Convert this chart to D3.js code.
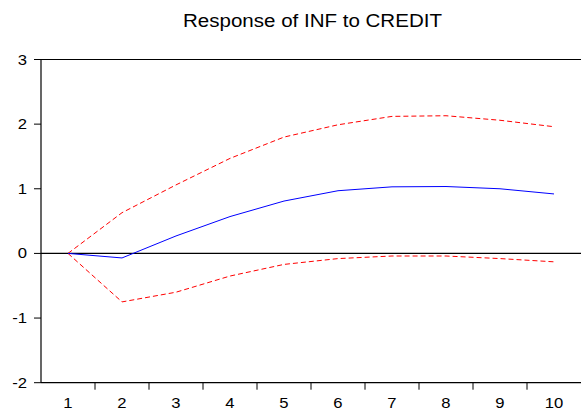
<!DOCTYPE html>
<html>
<head>
<meta charset="utf-8">
<script src="https://cdn.jsdelivr.net/npm/d3@7/dist/d3.min.js"></script>
<style>
  html, body { margin: 0; padding: 0; background: #fff; }
  svg { display: block; font-family: "Liberation Sans", Arial, sans-serif; }
</style>
</head>
<body>
<svg id="chart" width="581" height="409"></svg>
<script>
// Impulse response of INF to a CREDIT shock, with ±2 S.E. bands
const periods = [1, 2, 3, 4, 5, 6, 7, 8, 9, 10];
const response = [0.00, -0.07, 0.27, 0.57, 0.81, 0.97, 1.03, 1.035, 1.00, 0.92];
const upperBand = [0.00, 0.63, 1.06, 1.47, 1.80, 1.99, 2.12, 2.13, 2.06, 1.96];
const lowerBand = [0.00, -0.75, -0.60, -0.35, -0.17, -0.08, -0.04, -0.04, -0.08, -0.13];
const yTicks = [-2, -1, 0, 1, 2, 3];
const titleText = "Response of INF to CREDIT";

const svg = d3.select("#chart");
const plotLeft = 41, plotRight = 581, plotTop = 59.5, plotBottom = 382.7;
const stretch = 1.11; // glyphs are slightly wide

const x = d3.scaleBand().domain(periods).range([plotLeft, plotRight]).padding(0);
const y = d3.scaleLinear().domain([-2, 3]).range([plotBottom, plotTop]);
const cx = d => x(d) + x.bandwidth() / 2;

// Title
svg.append("text")
  .attr("transform", `translate(312.5,27) scale(${stretch},1)`)
  .attr("text-anchor", "middle")
  .attr("font-size", 18.5)
  .attr("fill", "#000")
  .text(titleText);

// Frame: left, top and bottom edges
const frame = svg.append("g").attr("stroke", "#000").attr("stroke-width", 1.2).attr("fill", "none");
frame.append("line").attr("x1", plotLeft).attr("x2", plotLeft).attr("y1", plotTop).attr("y2", plotBottom);
frame.append("line").attr("x1", plotLeft).attr("x2", plotRight).attr("y1", plotTop).attr("y2", plotTop);
frame.append("line").attr("x1", plotLeft).attr("x2", plotRight).attr("y1", plotBottom).attr("y2", plotBottom);

// Y axis ticks and labels
const yAxis = svg.append("g");
yAxis.selectAll("line").data(yTicks).join("line")
  .attr("x1", plotLeft - 7).attr("x2", plotLeft)
  .attr("y1", d => y(d)).attr("y2", d => y(d))
  .attr("stroke", "#000").attr("stroke-width", 1);
yAxis.selectAll("text").data(yTicks).join("text")
  .attr("transform", d => `translate(27,${y(d) + 5}) scale(${stretch},1)`)
  .attr("text-anchor", "end")
  .attr("font-size", 15)
  .attr("fill", "#000")
  .text(d => d);

// X axis ticks at band boundaries, labels at band centres
const xAxis = svg.append("g");
const boundaries = periods.slice(1).map(p => x(p));
xAxis.selectAll("line").data(boundaries).join("line")
  .attr("x1", d => d).attr("x2", d => d)
  .attr("y1", plotBottom).attr("y2", plotBottom + 7)
  .attr("stroke", "#000").attr("stroke-width", 1);
xAxis.selectAll("text").data(periods).join("text")
  .attr("transform", d => `translate(${cx(d)},407.5) scale(${stretch},1)`)
  .attr("text-anchor", "middle")
  .attr("font-size", 15)
  .attr("fill", "#000")
  .text(d => d);

// Zero reference line
svg.append("line")
  .attr("x1", plotLeft).attr("x2", plotRight)
  .attr("y1", y(0)).attr("y2", y(0))
  .attr("stroke", "#000").attr("stroke-width", 1.2);

const line = d3.line().x((d, i) => cx(periods[i])).y(d => y(d));

// Confidence bands
[upperBand, lowerBand].forEach(band => {
  svg.append("path")
    .datum(band)
    .attr("d", line)
    .attr("fill", "none")
    .attr("stroke", "#ff0000")
    .attr("stroke-width", 1)
    .attr("stroke-dasharray", "5,3");
});

// Response line
svg.append("path")
  .datum(response)
  .attr("d", line)
  .attr("fill", "none")
  .attr("stroke", "#0000ff")
  .attr("stroke-width", 1);
</script>
</body>
</html>
